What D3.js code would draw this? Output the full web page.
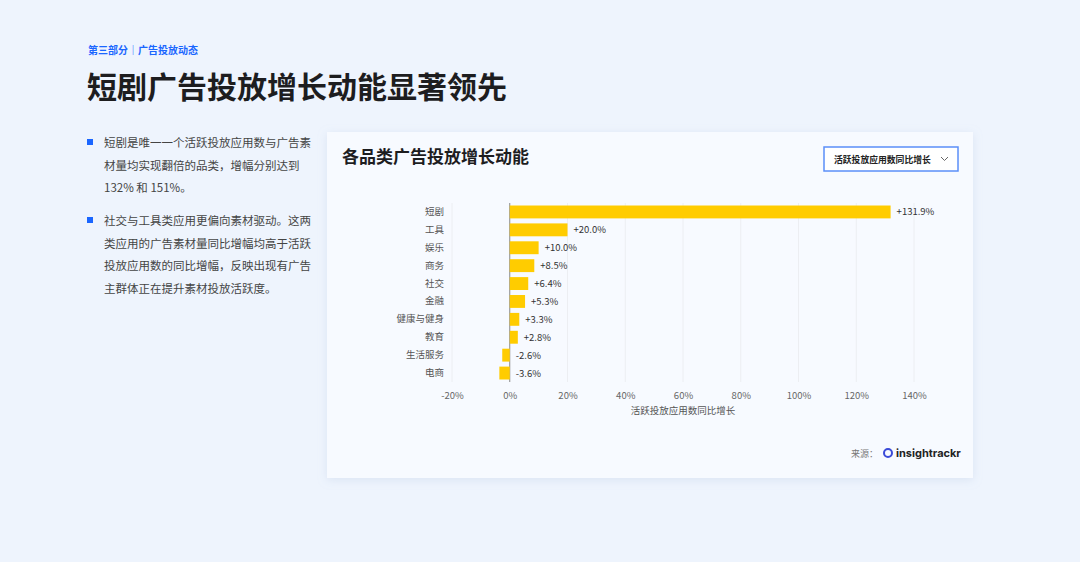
<!DOCTYPE html>
<html><head><meta charset="utf-8">
<script src="https://cdn.jsdelivr.net/npm/d3@7/dist/d3.min.js"></script>
<style>
body{margin:0;background:#eef4fd;font-family:"Noto Sans CJK SC","Noto Sans",sans-serif;}
svg{display:block}
</style></head><body>
<svg id="c" width="1080" height="562"></svg>
<script>
const categories=["短剧","工具","娱乐","商务","社交","金融","健康与健身","教育","生活服务","电商"];
const values=[131.9,20.0,10.0,8.5,6.4,5.3,3.3,2.8,-2.6,-3.6];
const tickValues=[-20,0,20,40,60,80,100,120,140];
const bullets=[["短剧是唯一一个活跃投放应用数与广告素","材量均实现翻倍的品类，增幅分别达到","132% 和 151%。"],["社交与工具类应用更偏向素材驱动。这两","类应用的广告素材量同比增幅均高于活跃","投放应用数的同比增幅，反映出现有广告","主群体正在提升素材投放活跃度。"]];
const svg=d3.select("#c");
const F='"Noto Sans CJK SC",sans-serif';
svg.append("rect").attr("width",1080).attr("height",562).attr("fill","#eef4fd");
svg.append("text").attr("x",88).attr("y",54).attr("font-size",10).attr("font-weight",700).attr("fill","#1a66ff").attr("font-family",F).text("第三部分｜广告投放动态");
svg.append("text").attr("x",87).attr("y",98).attr("font-size",30).attr("font-weight",700).attr("fill","#1d1d1f").attr("font-family",F).text("短剧广告投放增长动能显著领先");
let by=[147,225];
bullets.forEach((b,i)=>{
  svg.append("rect").attr("x",87).attr("y",by[i]-8).attr("width",6).attr("height",6).attr("fill","#1a66ff");
  b.forEach((l,j)=>svg.append("text").attr("x",104).attr("y",by[i]+j*22.5).attr("font-size",11.5).attr("fill","#444").attr("font-family",F).text(l));
});
const defs=svg.append("defs");
const f=defs.append("filter").attr("id","sh").attr("x","-10%").attr("y","-10%").attr("width","120%").attr("height","130%");
f.append("feDropShadow").attr("dx",0).attr("dy",2).attr("stdDeviation",5).attr("flood-color","#9fb4d6").attr("flood-opacity",0.25);
svg.append("rect").attr("x",327).attr("y",132).attr("width",646).attr("height",346).attr("fill","#f7faff").attr("filter","url(#sh)");
svg.append("text").attr("x",342).attr("y",163).attr("font-size",17).attr("font-weight",700).attr("fill","#1d1d1f").attr("font-family",F).text("各品类广告投放增长动能");
svg.append("rect").attr("x",824).attr("y",147).attr("width",134).attr("height",24).attr("fill","#fff").attr("stroke","#5b8ff9").attr("stroke-width",1.5);
svg.append("text").attr("x",834).attr("y",162.5).attr("font-size",8.8).attr("font-weight",700).attr("fill","#222").attr("font-family",F).text("活跃投放应用数同比增长");
svg.append("path").attr("d","M941,157 l3.5,3.5 l3.5,-3.5").attr("fill","none").attr("stroke","#666");
const x=d3.scaleLinear().domain([-20,140]).range([452,914]);
const y=d3.scaleBand().domain(categories).range([203,382]).paddingInner(0.28).paddingOuter(0.14);
const g=svg.append("g");
g.selectAll(".gl").data(tickValues).join("line").attr("x1",d=>x(d)).attr("x2",d=>x(d)).attr("y1",203).attr("y2",382).attr("stroke",d=>d===0?"#888":"#eceef2").attr("stroke-width",1);
g.selectAll(".b").data(values).join("rect").attr("x",d=>x(Math.min(0,d))).attr("width",d=>Math.abs(x(d)-x(0))).attr("y",(d,i)=>y(categories[i])).attr("height",y.bandwidth()).attr("fill","#ffcc00");
g.selectAll(".v").data(values).join("text").attr("x",d=>d>=0?x(d)+6:x(0)+6).attr("y",(d,i)=>y(categories[i])+y.bandwidth()/2+3.5).attr("font-size",9.5).attr("fill","#333").attr("font-family",F).text(d=>(d>=0?"+":"")+d.toFixed(1)+"%");
const ax=svg.append("g").attr("transform","translate(0,387)").call(d3.axisBottom(x).tickValues(tickValues).tickSize(0).tickFormat(d=>d+"%"));
ax.select(".domain").remove();
ax.selectAll("text").attr("font-size",9.5).attr("fill","#666").attr("font-family",F).attr("dy","0.9em");
const ay=svg.append("g").attr("transform","translate(447,0)").call(d3.axisLeft(y).tickSize(0));
ay.select(".domain").remove();
ay.selectAll("text").attr("font-size",9.5).attr("fill","#555").attr("font-family",F);
svg.append("text").attr("x",683).attr("y",414).attr("text-anchor","middle").attr("font-size",9.5).attr("fill","#555").attr("font-family",F).text("活跃投放应用数同比增长");
svg.append("text").attr("x",851).attr("y",457).attr("font-size",9).attr("fill","#777").attr("font-family",F).text("来源：");
svg.append("circle").attr("cx",888).attr("cy",453).attr("r",4).attr("fill","none").attr("stroke","#3b4bd8").attr("stroke-width",2);
svg.append("text").attr("x",896).attr("y",457).attr("font-size",11).attr("font-weight",700).attr("fill","#222").attr("font-family","Inter,sans-serif").text("insightrackr");
</script></body></html>
